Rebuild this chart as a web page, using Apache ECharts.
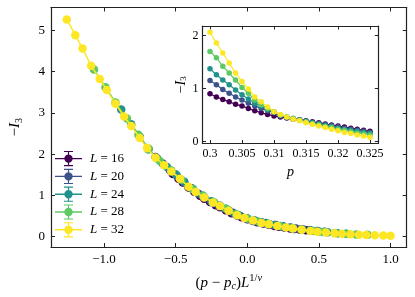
<!DOCTYPE html>
<html><head><meta charset="utf-8">
<script src="https://cdn.jsdelivr.net/npm/echarts@6/dist/echarts.min.js"></script>
<style>html,body{margin:0;padding:0;background:#fff}#c{width:415px;height:297px}</style>
</head><body><div id="c"></div>
<script>
// ---------- data ----------
const seriesNames = ['L = 16', 'L = 20', 'L = 24', 'L = 28', 'L = 32'];
const colors = ['#440154', '#3b528b', '#21918c', '#5ec962', '#fde725'];

// main panel: rescaled x and -I3
const x16 = [-0.52,-0.48,-0.45,-0.41,-0.37,-0.33,-0.30,-0.26,-0.22,-0.19,-0.15,-0.11,-0.07,-0.04,0.00,0.04,0.07,0.11,0.15,0.19,0.22,0.26,0.30,0.33,0.37,0.41];
const y16 = [1.52,1.40,1.31,1.19,1.09,0.99,0.92,0.84,0.76,0.71,0.64,0.57,0.51,0.47,0.42,0.38,0.35,0.32,0.29,0.26,0.24,0.22,0.20,0.185,0.17,0.155];
const x20 = [-0.69,-0.64,-0.59,-0.54,-0.49,-0.44,-0.39,-0.34,-0.30,-0.25,-0.20,-0.15,-0.10,-0.05,0.00,0.05,0.10,0.15,0.20,0.25,0.30,0.34,0.39,0.44,0.49,0.54];
const y20 = [2.12,1.93,1.77,1.61,1.47,1.32,1.17,1.04,0.95,0.84,0.75,0.67,0.58,0.50,0.44,0.39,0.35,0.31,0.28,0.25,0.22,0.20,0.175,0.155,0.135,0.12];
const x24 = [-0.88,-0.81,-0.75,-0.69,-0.63,-0.56,-0.50,-0.44,-0.38,-0.31,-0.25,-0.19,-0.13,-0.06,0.00,0.06,0.13,0.19,0.25,0.31,0.38,0.44,0.50,0.56,0.63,0.69];
const y24 = [3.08,2.72,2.42,2.13,1.90,1.69,1.51,1.33,1.16,0.99,0.86,0.75,0.64,0.52,0.44,0.38,0.33,0.28,0.245,0.21,0.175,0.15,0.125,0.105,0.085,0.07];
const x28 = [-1.07,-0.99,-0.92,-0.84,-0.76,-0.69,-0.61,-0.53,-0.46,-0.38,-0.31,-0.23,-0.15,-0.08,0.00,0.08,0.15,0.23,0.31,0.38,0.46,0.53,0.61,0.69,0.76,0.84];
const y28 = [4.05,3.62,3.25,2.86,2.47,2.12,1.83,1.60,1.38,1.15,0.99,0.83,0.68,0.55,0.44,0.36,0.31,0.26,0.21,0.17,0.14,0.115,0.09,0.07,0.055,0.045];
const x32 = [-1.26,-1.20,-1.15,-1.09,-1.03,-0.98,-0.92,-0.86,-0.81,-0.75,-0.70,-0.64,-0.58,-0.53,-0.47,-0.41,-0.36,-0.30,-0.24,-0.19,-0.13,-0.07,-0.02,0.04,0.10,0.15,0.21,0.27,0.32,0.38,0.44,0.49,0.55,0.61,0.66,0.72,0.78,0.83,0.89,0.95,1.00];
const y32 = [5.26,4.88,4.56,4.14,3.82,3.55,3.22,2.91,2.68,2.39,2.15,1.91,1.73,1.58,1.40,1.21,1.08,0.95,0.83,0.74,0.63,0.52,0.45,0.39,0.33,0.30,0.26,0.225,0.20,0.165,0.14,0.12,0.10,0.08,0.07,0.057,0.045,0.04,0.033,0.027,0.022];

// inset: p and -I3
const pVals = [0.300,0.301,0.302,0.303,0.304,0.305,0.306,0.307,0.308,0.309,0.310,0.311,0.312,0.313,0.314,0.315,0.316,0.317,0.318,0.319,0.320,0.321,0.322,0.323,0.324,0.325];
const i16 = [0.90,0.84,0.79,0.75,0.70,0.67,0.62,0.58,0.54,0.51,0.48,0.46,0.44,0.42,0.41,0.39,0.37,0.35,0.33,0.31,0.29,0.27,0.25,0.23,0.21,0.19];
const i20 = [1.15,1.07,0.98,0.91,0.84,0.78,0.72,0.67,0.62,0.58,0.54,0.48,0.45,0.43,0.41,0.38,0.36,0.34,0.32,0.30,0.27,0.25,0.23,0.21,0.19,0.17];
const i24 = [1.37,1.26,1.16,1.07,0.97,0.88,0.80,0.72,0.67,0.60,0.56,0.50,0.46,0.43,0.40,0.38,0.35,0.33,0.30,0.28,0.25,0.23,0.21,0.19,0.17,0.15];
const i28 = [1.70,1.58,1.42,1.29,1.16,1.02,0.91,0.78,0.69,0.62,0.56,0.50,0.46,0.43,0.40,0.37,0.34,0.31,0.28,0.26,0.23,0.21,0.18,0.16,0.14,0.12];
const i32 = [2.06,1.86,1.67,1.48,1.29,1.13,0.99,0.84,0.75,0.65,0.56,0.51,0.46,0.42,0.39,0.35,0.32,0.29,0.26,0.23,0.20,0.17,0.15,0.12,0.10,0.08];

const mainXTicks = [-1.0, -0.5, 0.0, 0.5, 1.0];
const mainYTicks = [0, 1, 2, 3, 4, 5];
const insetXTicks = [0.3, 0.305, 0.31, 0.315, 0.32, 0.325];
const insetYTicks = [0, 1, 2];

// ---------- chart ----------
const FONT = 'Liberation Serif';
const mainX = [x16, x20, x24, x28, x32];
const mainY = [y16, y20, y24, y28, y32];
const insetY = [i16, i20, i24, i28, i32];
const fmtMinus = s => s.replace('-', '\u2212');
const lineColor = '#222';

function axisBase(extra) {
  return Object.assign({
    axisLine: { show: true, onZero: false, lineStyle: { color: lineColor, width: 1.2 } },
    splitLine: { show: false },
  }, extra);
}

const richMath = {
  i: { fontFamily: FONT, fontStyle: 'italic', fontSize: 15, color: '#000' },
  sub: { fontFamily: FONT, fontStyle: 'italic', fontSize: 10, color: '#000', padding: [7, 0, 0, 0] },
  subr: { fontFamily: FONT, fontSize: 10, color: '#000', padding: [7, 0, 0, 0] },
  sup: { fontFamily: FONT, fontSize: 10.5, color: '#000', padding: [0, 0, 9, 0] },
  supi: { fontFamily: FONT, fontStyle: 'italic', fontSize: 10.5, color: '#000', padding: [0, 0, 9, 0] }
};
const richSmall = {
  i: { fontFamily: FONT, fontStyle: 'italic', fontSize: 13, color: '#000' },
  subr: { fontFamily: FONT, fontSize: 9, color: '#000', padding: [6, 0, 0, 0] }
};

const series = [];
seriesNames.forEach((n, k) => {
  series.push({
    name: n, type: 'line', xAxisIndex: 0, yAxisIndex: 0,
    data: mainX[k].map((x, i) => [x, mainY[k][i]]),
    symbol: 'circle', symbolSize: 8.5, showSymbol: true,
    lineStyle: { color: colors[k], width: 1.5 },
    itemStyle: { color: colors[k] },
    z: 2 + k, animation: false
  });
});
seriesNames.forEach((n, k) => {
  series.push({
    name: n, type: 'line', xAxisIndex: 2, yAxisIndex: 2,
    data: pVals.map((p, i) => [p, insetY[k][i]]),
    symbol: 'circle', symbolSize: 5.5, showSymbol: true,
    lineStyle: { color: colors[k], width: 1.2 },
    itemStyle: { color: colors[k] },
    z: 12 + k, animation: false
  });
});

const legendIcon = 'path://M0 7.3H27V8.7H0Z M12.9 1H14.1V15H12.9Z M9 0.4H18V1.5H9Z M9 14.5H18V15.6H9Z M13.5 3.8A4.2 4.2 0 1 1 13.5 12.2A4.2 4.2 0 1 1 13.5 3.8Z';

const option = {
  animation: false,
  backgroundColor: '#fff',
  textStyle: { fontFamily: FONT, color: '#000' },
  grid: [
    { left: 39, top: 7.5, right: 8.3, bottom: 50, containLabel: false },
    { left: 202.5, top: 26, right: 36.7, bottom: 153.5, containLabel: false, show: true, backgroundColor: '#fff', borderWidth: 0, z: 10 }
  ],
  legend: {
    data: seriesNames,
    orient: 'vertical', left: 50, top: 146,
    itemWidth: 27, itemHeight: 16, itemGap: 2.6,
    icon: legendIcon,
    formatter: n => '{i|L}' + n.slice(1),
    textStyle: { fontFamily: FONT, fontSize: 13, color: '#000', padding: [0, 0, 0, 3], rich: richSmall }
  },
  xAxis: [
    axisBase({ gridIndex: 0, type: 'value', min: -1.37, max: 1.113, position: 'bottom',
      axisTick: { show: true, inside: true, length: 4, customValues: mainXTicks, lineStyle: { color: lineColor } },
      axisLabel: { show: true, customValues: mainXTicks, margin: 6, fontFamily: FONT, fontSize: 13, color: '#000', formatter: v => fmtMinus(v.toFixed(1)) },
      name: '({i|p} \u2212 {i|p}{sub|c}){i|L}{sup|1/}{supi|\u03bd}', nameLocation: 'middle', nameGap: 26,
      nameTextStyle: { fontFamily: FONT, fontSize: 15, color: '#000', rich: richMath }
    }),
    axisBase({ gridIndex: 0, type: 'value', min: -1.37, max: 1.113, position: 'top',
      axisTick: { show: true, inside: true, length: 4, customValues: mainXTicks, lineStyle: { color: lineColor } },
      axisLabel: { show: false }
    }),
    axisBase({ gridIndex: 1, type: 'value', min: 0.29883, max: 0.3263, position: 'bottom',
      axisTick: { show: true, inside: true, length: 3.5, customValues: insetXTicks, lineStyle: { color: lineColor } },
      axisLabel: { show: true, customValues: insetXTicks, margin: 4, fontFamily: FONT, fontSize: 12, color: '#000', formatter: v => String(+v.toFixed(3)) },
      name: '{i|p}', nameLocation: 'middle', nameGap: 22,
      nameTextStyle: { fontFamily: FONT, fontSize: 14, color: '#000', rich: { i: { fontFamily: FONT, fontStyle: 'italic', fontSize: 14, color: '#000' } } },
      z: 11
    }),
    axisBase({ gridIndex: 1, type: 'value', min: 0.29883, max: 0.3263, position: 'top',
      axisTick: { show: true, inside: true, length: 3.5, customValues: insetXTicks, lineStyle: { color: lineColor } },
      axisLabel: { show: false }, z: 11
    })
  ],
  yAxis: [
    axisBase({ gridIndex: 0, type: 'value', min: -0.25, max: 5.55, position: 'left',
      axisTick: { show: true, inside: true, length: 4, customValues: mainYTicks, lineStyle: { color: lineColor } },
      axisLabel: { show: true, customValues: mainYTicks, margin: 6, fontFamily: FONT, fontSize: 13, color: '#000', formatter: v => String(Math.round(v)) },
      name: '\u2212{i|I}{subr|3}', nameLocation: 'middle', nameGap: 27, nameRotate: 90,
      nameTextStyle: { fontFamily: FONT, fontSize: 15, color: '#000', rich: richMath }
    }),
    axisBase({ gridIndex: 0, type: 'value', min: -0.25, max: 5.55, position: 'right',
      axisTick: { show: true, inside: true, length: 4, customValues: mainYTicks, lineStyle: { color: lineColor } },
      axisLabel: { show: false }
    }),
    axisBase({ gridIndex: 1, type: 'value', min: -0.04, max: 2.18, position: 'left',
      axisTick: { show: true, inside: true, length: 3.5, customValues: insetYTicks, lineStyle: { color: lineColor } },
      axisLabel: { show: true, customValues: insetYTicks, margin: 4, fontFamily: FONT, fontSize: 12, color: '#000', formatter: v => String(Math.round(v)) },
      name: '\u2212{i|I}{subr|3}', nameLocation: 'middle', nameGap: 14, nameRotate: 90,
      nameTextStyle: { fontFamily: FONT, fontSize: 14, color: '#000', rich: { i: { fontFamily: FONT, fontStyle: 'italic', fontSize: 14, color: '#000' }, subr: { fontFamily: FONT, fontSize: 9, color: '#000', padding: [6, 0, 0, 0] } } },
      z: 11
    }),
    axisBase({ gridIndex: 1, type: 'value', min: -0.04, max: 2.18, position: 'right',
      axisTick: { show: true, inside: true, length: 3.5, customValues: insetYTicks, lineStyle: { color: lineColor } },
      axisLabel: { show: false }, z: 11
    })
  ],
  series: series
};

const chart = echarts.init(document.getElementById('c'), null, { renderer: 'canvas' });
chart.setOption(option);
</script>
</body></html>
